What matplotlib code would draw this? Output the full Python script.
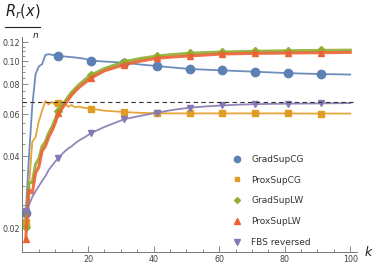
import numpy as np
import matplotlib
matplotlib.use("Agg")
import matplotlib.pyplot as plt
from matplotlib.lines import Line2D
from matplotlib.ticker import FixedLocator, NullFormatter

# iteration k, shared by all series
k = [1, 2, 3, 4, 5, 6, 7, 8, 9, 10, 11, 12, 13, 14, 15, 16, 17, 19, 21, 25, 31, 36,
     41, 46, 51, 56, 61, 66, 71, 76, 81, 86, 91, 96, 100]

grad_sup_cg = [0.0232, 0.040, 0.065, 0.088, 0.095, 0.097, 0.106, 0.1068, 0.1062, 0.1055,
               0.105, 0.1047, 0.1044, 0.1041, 0.1038, 0.1035, 0.1031, 0.1022, 0.1004,
               0.0995, 0.0984, 0.0967, 0.0953, 0.0939, 0.0926, 0.0920, 0.0914, 0.0908,
               0.0902, 0.0896, 0.0890, 0.0886, 0.0882, 0.0880, 0.0878]
prox_sup_cg = [0.0212, 0.030, 0.046, 0.048, 0.056, 0.062, 0.068, 0.0658, 0.0675, 0.0655,
               0.0668, 0.0648, 0.0663, 0.0643, 0.0655, 0.0640, 0.0645, 0.0637, 0.0632,
               0.0620, 0.0612, 0.0607, 0.0605, 0.0604, 0.0604, 0.0604, 0.0604, 0.0604,
               0.0604, 0.0604, 0.0604, 0.0603, 0.0603, 0.0603, 0.0603]
grad_sup_lw = [0.0203, 0.031, 0.031, 0.037, 0.039, 0.044, 0.046, 0.050, 0.053, 0.057,
               0.062, 0.065, 0.068, 0.071, 0.074, 0.0765, 0.079, 0.0835, 0.0874,
               0.093, 0.0993, 0.1025, 0.1049, 0.1065, 0.1077, 0.1085, 0.1090, 0.1095,
               0.1098, 0.1101, 0.1104, 0.1106, 0.1108, 0.1109, 0.1110]
prox_sup_lw = [0.0180, 0.029, 0.028, 0.034, 0.036, 0.042, 0.044, 0.048, 0.051, 0.055,
               0.0605, 0.063, 0.066, 0.069, 0.072, 0.0745, 0.077, 0.081, 0.085,
               0.091, 0.0965, 0.1000, 0.1026, 0.1040, 0.1050, 0.1060, 0.1070, 0.1073,
               0.1077, 0.1078, 0.1080, 0.1082, 0.1083, 0.1085, 0.1087]
fbs_reversed = [0.0235, 0.025, 0.027, 0.0285, 0.030, 0.0315, 0.033, 0.035, 0.0365, 0.038,
                0.0394, 0.0407, 0.042, 0.0431, 0.044, 0.0452, 0.0463, 0.048, 0.050,
                0.053, 0.0571, 0.059, 0.0608, 0.0625, 0.0638, 0.0646, 0.0652, 0.0657,
                0.0660, 0.0662, 0.0663, 0.0664, 0.0665, 0.0666, 0.0667]
ref_level = 0.0673

names = ["GradSupCG", "ProxSupCG", "GradSupLW", "ProxSupLW", "FBS reversed"]
colors = ["#5E81B5", "#E19C24", "#8FB032", "#EB6235", "#8778B3"]
markers = ["o", "s", "D", "^", "v"]
msizes = [6, 4.5, 4, 5, 5]
lwidths = [1.3, 1.3, 2.2, 2.2, 1.3]
series = [grad_sup_cg, prox_sup_cg, grad_sup_lw, prox_sup_lw, fbs_reversed]

kk = np.array(k)
mark = np.isin(kk, [1, 11, 21, 31, 41, 51, 61, 71, 81, 91])

fig = plt.figure(figsize=(3.74, 2.65), dpi=100)
ax = fig.add_axes([0.06, 0.049, 0.894, 0.811])

for y, c, m, ms, lw in zip(series, colors, markers, msizes, lwidths):
    y = np.array(y)
    ax.plot(kk, y, color=c, lw=lw, alpha=0.9)
    ax.plot(kk[mark], y[mark], ls="none", marker=m, color=c, ms=ms)

ax.plot([0, 101], [ref_level, ref_level], color="#333333", ls=(0, (4, 3)), lw=0.8)

ax.set_yscale("log")
ax.set_xlim(0, 102)
ax.set_ylim(0.0159, 0.1259)

ax.set_xticks([20, 40, 60, 80, 100])
ax.xaxis.set_minor_locator(FixedLocator([5, 10, 15, 25, 30, 35, 45, 50, 55, 65, 70, 75, 85, 90, 95]))
yt = [0.02, 0.04, 0.06, 0.08, 0.10, 0.12]
ax.yaxis.set_major_locator(FixedLocator(yt))
ax.set_yticklabels(["0.02", "0.04", "0.06", "0.08", "0.10", "0.12"])
ax.yaxis.set_minor_locator(FixedLocator([0.025, 0.03, 0.035, 0.045, 0.05, 0.055, 0.065, 0.07,
                                         0.075, 0.085, 0.09, 0.095, 0.105, 0.11, 0.115]))
ax.yaxis.set_minor_formatter(NullFormatter())

for s in ["top", "right"]:
    ax.spines[s].set_visible(False)
for s in ["left", "bottom"]:
    ax.spines[s].set_color("#777777")
    ax.spines[s].set_linewidth(0.7)
ax.tick_params(which="both", direction="in", colors="#777777", labelcolor="#444444",
               labelsize=5.8, width=0.6)
ax.tick_params(which="major", length=4, pad=2)
ax.tick_params(which="minor", length=2)

ax.text(1.035, 0.0, "k", transform=ax.transAxes, fontsize=9, style="italic",
        va="center", ha="center", color="#222222")

# y label as a fraction at the top left
fig.text(0.013, 0.955, "$R_r(x)$", fontsize=10.5, va="center", ha="left", color="#222222")
fig.add_artist(Line2D([0.013, 0.108], [0.898, 0.898], color="#222222", lw=0.8))
fig.text(0.094, 0.866, "$n$", fontsize=6.5, va="center", ha="center", color="#222222")

handles = [Line2D([], [], ls="none", marker=m, color=c, ms=ms * 0.75)
           for m, c, ms in zip(markers, colors, msizes)]
ax.legend(handles, names, loc="upper left", bbox_to_anchor=(0.59, 0.49), frameon=False,
          fontsize=6.5, handletextpad=0.6, labelspacing=1.3, labelcolor="#333333")

fig.savefig("out.png", dpi=100)
